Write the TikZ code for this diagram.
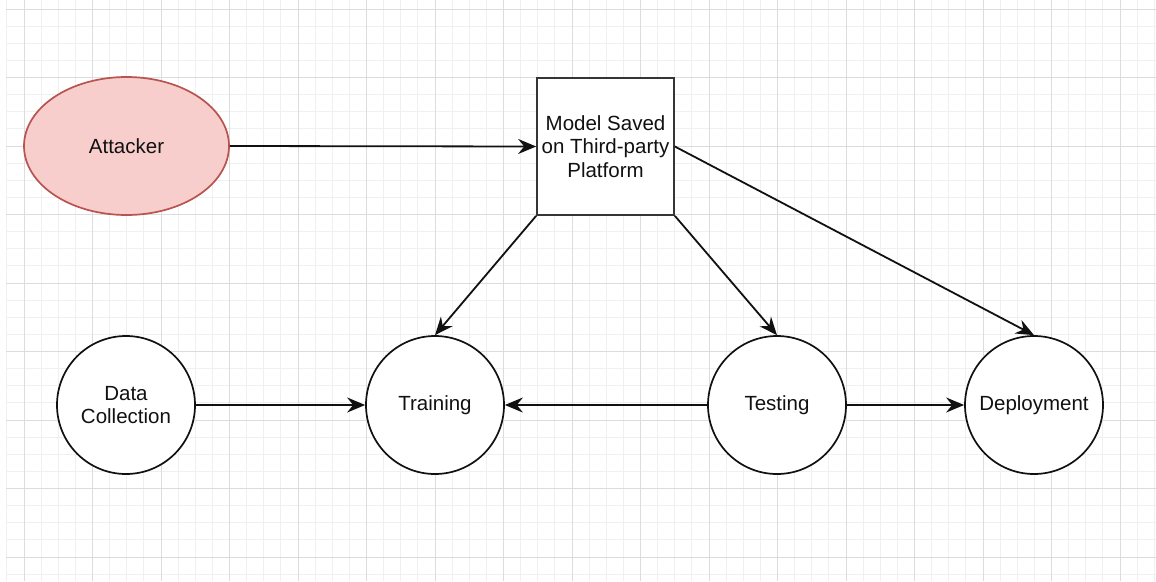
\documentclass[tikz,border=0pt]{standalone}
\usepackage{fontspec}
\setmainfont{Liberation Sans}
\usetikzlibrary{shapes.geometric,arrows.meta}

\definecolor{gridminor}{HTML}{F0F0F0}
\definecolor{gridmajor}{HTML}{DCDCDC}
\definecolor{attackfill}{HTML}{F8CECC}
\definecolor{attackline}{HTML}{B85450}
\definecolor{inkline}{HTML}{111111}

\tikzset{
  lbl/.style={font=\fontsize{20.5}{23.5}\selectfont, text=inkline, align=center},
  stage/.style={lbl, circle, draw=inkline, line width=1.7pt, fill=white,
    minimum size=138pt, inner sep=0pt},
  threat/.style={lbl, ellipse, draw=attackline, line width=1.7pt, fill=attackfill,
    minimum width=205pt, minimum height=138pt, inner sep=0pt},
  store/.style={lbl, rectangle, draw=inkline!85, line width=1.7pt, fill=white,
    minimum width=137pt, minimum height=137pt, inner sep=0pt},
  flow/.style={draw=inkline, line width=1.8pt,
    -{Stealth[length=18pt, width=15pt, inset=6pt]}},
}

\begin{document}
\begin{tikzpicture}[x=1pt, y=-1pt]
  % canvas and page extent
  \fill[white] (0,0) rectangle (1156,581);
  \useasboundingbox (0,0) rectangle (1156,581);

  % background grid: minor every 17.125, major every 68.5
  \foreach \i in {-1,...,67} {
    \pgfmathsetmacro{\gx}{24+17.125*\i}
    \draw[gridminor, line width=1pt] (\gx,0) -- (\gx,581);
  }
  \foreach \j in {0,...,33} {
    \pgfmathsetmacro{\gy}{9+17.125*\j}
    \draw[gridminor, line width=1pt] (6,\gy) -- (1156,\gy);
  }
  \foreach \i in {0,...,16} {
    \pgfmathsetmacro{\gx}{24+68.5*\i}
    \draw[gridmajor, line width=1pt] (\gx,0) -- (\gx,581);
  }
  \foreach \j in {0,...,8} {
    \pgfmathsetmacro{\gy}{9+68.5*\j}
    \draw[gridmajor, line width=1pt] (6,\gy) -- (1156,\gy);
  }

  % nodes
  \node[threat] (attacker) at (126.5,146) {Attacker};
  \node[store]  (model)    at (605.5,146.5) {Model Saved\\on Third-party\\Platform};
  \node[stage]  (data)     at (126,405) {Data\\Collection};
  \node[stage]  (train)    at (435,405) {Training};
  \node[stage]  (test)     at (777,405) {Testing};
  \node[stage]  (deploy)   at (1034,405) {Deployment};

  % connectors
  \draw[flow] (attacker.east) -- (model.west);
  \draw[flow] (model.south west) -- (train.north);
  \draw[flow] (model.south east) -- (test.north);
  \draw[flow] (model.east) -- (deploy.north);
  \draw[flow] (data.east) -- (train.west);
  \draw[flow] (test.west) -- (train.east);
  \draw[flow] (test.east) -- (deploy.west);
\end{tikzpicture}
\end{document}
